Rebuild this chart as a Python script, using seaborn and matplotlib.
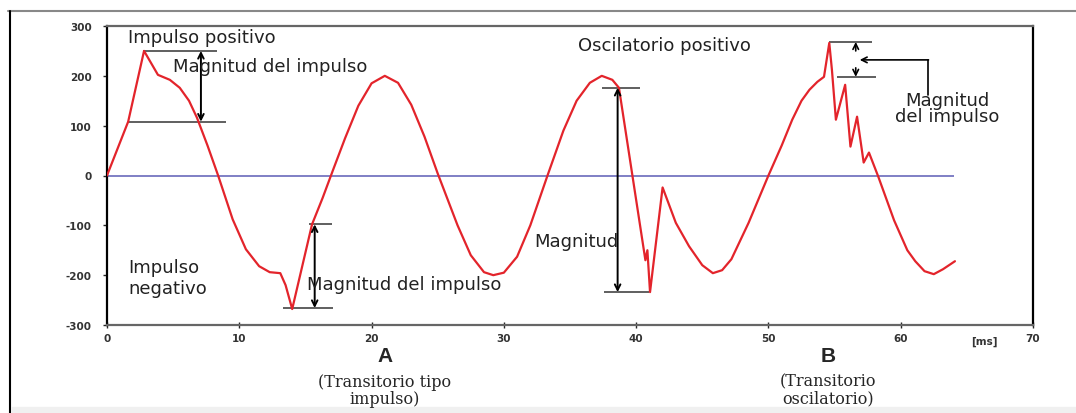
import matplotlib
matplotlib.use('Agg')
import matplotlib.pyplot as plt
import seaborn as sns
import pandas as pd
from matplotlib.lines import Line2D

# forma de onda (tiempo en ms, tension)
tiempo_ms = [0, 1.6, 2.8, 3.85, 4.75, 5.5, 6.2, 6.8, 7.6, 8.4, 9.5, 10.5, 11.5, 12.3, 13.1, 13.5,
             14.0, 14.6, 15.5, 16.3, 17.1,
             18, 19, 20, 21, 22, 23, 24, 25, 26.5, 27.5, 28.5, 29.2, 30, 31, 32, 33.3,
             34.5, 35.5, 36.5, 37.4, 38.2, 38.7,
             40.7, 40.85, 41.05, 42.0, 43, 44, 45, 45.8, 46.5, 47.2, 48.5, 50,
             51, 51.8, 52.5, 53.1, 53.7, 54.2, 54.6, 54.8, 55.1, 55.8, 56.2, 56.7, 57.2, 57.6,
             58.3, 59.5, 60.5, 61.1, 61.8, 62.5, 63.2, 64.1]
tension = [0, 108, 250, 202, 192, 176, 150, 116, 60, 0, -88, -148, -182, -194, -196, -220,
           -268, -200, -98, -45, 12,
           75, 140, 185, 200, 186, 142, 78, 4, -100, -160, -194, -200, -195, -163, -100, 0,
           90, 150, 186, 200, 192, 176,
           -170, -150, -234, -24, -95, -142, -180, -196, -190, -168, -95, 0,
           60, 112, 150, 172, 188, 198, 266, 212, 112, 182, 58, 118, 26, 46,
           -2, -90, -150, -172, -192, -198, -188, -172]

xticks = [0, 10, 20, 30, 40, 50, 60, 70]
yticks = [-300, -200, -100, 0, 100, 200, 300]

df = pd.DataFrame({'t': tiempo_ms, 'v': tension})

sns.set_style('white')
plt.rcParams['font.family'] = ['DejaVu Sans']

fig = plt.figure(figsize=(10.76, 4.14), dpi=100)
ax = fig.add_axes([107/1076, 1-326/414, (1033-107)/1076, (326-27)/414])

# marco exterior
fig.add_artist(Line2D([8/1076, 1], [1-12/414, 1-12/414], color='#888888', lw=1.5))
fig.add_artist(Line2D([10/1076, 10/1076], [0, 1-12/414], color='black', lw=1.5))
fig.patches.append(plt.Rectangle((12/1076, 0), 1, 6/414, transform=fig.transFigure,
                                 color='#f0f0f0', zorder=-5))

ax.hlines(0, 0, 64, color='#7575c0', lw=1.3, zorder=1)
sns.lineplot(data=df, x='t', y='v', estimator=None, sort=False, color='#e3242b', lw=1.6, ax=ax, zorder=3)

ax.set_xlim(0, 70)
ax.set_ylim(-300, 300)
ax.set_xticks(xticks)
ax.set_yticks(yticks)
ax.set_xticklabels([str(v) for v in xticks], fontsize=7.5, fontweight='bold', color='#333333')
ax.set_yticklabels([str(v) for v in yticks], fontsize=7.5, fontweight='bold', color='#333333')
ax.tick_params(axis='x', direction='inout', length=5, width=1, pad=3, bottom=True)
ax.tick_params(axis='y', direction='out', length=3, width=1, pad=8, left=True)
ax.set_xlabel('')
ax.set_ylabel('')
for s in ['left', 'right']:
    ax.spines[s].set_color('black')
    ax.spines[s].set_linewidth(1.6)
for s in ['top', 'bottom']:
    ax.spines[s].set_color('#666666')
    ax.spines[s].set_linewidth(1.6)

txt = dict(fontsize=13, color='#222222')
line = dict(color='#444444', lw=1.2)
arr2 = dict(arrowstyle='<->', color='black', lw=1.4, shrinkA=0, shrinkB=0)
arr1 = dict(arrowstyle='->', color='black', lw=1.2, shrinkA=0, shrinkB=0)

# impulso positivo
ax.text(1.6, 278, 'Impulso positivo', va='center', ha='left', **txt)
ax.hlines(250, 2.7, 8.3, **line)
ax.hlines(108, 1.6, 9.0, **line)
ax.annotate('', xy=(7.1, 250), xytext=(7.1, 108), arrowprops=arr2)
ax.text(5.0, 220, 'Magnitud del impulso', va='center', ha='left', **txt)

# impulso negativo
ax.text(1.6, -204, 'Impulso\nnegativo', va='center', ha='left', linespacing=1.2, **txt)
ax.hlines(-98, 15.3, 17.0, **line)
ax.hlines(-266, 13.3, 17.1, **line)
ax.annotate('', xy=(15.7, -98), xytext=(15.7, -266), arrowprops=arr2)
ax.text(15.1, -218, 'Magnitud del impulso', va='center', ha='left', **txt)

# magnitud transitorio
ax.hlines(176, 37.4, 40.3, **line)
ax.hlines(-234, 37.6, 41.0, **line)
ax.annotate('', xy=(38.6, 176), xytext=(38.6, -234), arrowprops=arr2)
ax.text(38.7, -132, 'Magnitud', va='center', ha='right', **txt)

# oscilatorio positivo
ax.text(35.6, 262, 'Oscilatorio positivo', va='center', ha='left', **txt)
ax.hlines(268, 54.6, 57.8, **line)
ax.hlines(198, 55.2, 58.1, **line)
ax.annotate('', xy=(56.6, 268), xytext=(56.6, 250), arrowprops=arr1)
ax.annotate('', xy=(56.6, 198), xytext=(56.6, 216), arrowprops=arr1)
ax.plot([62.1, 62.1], [162, 232], color='black', lw=1.2)
ax.annotate('', xy=(56.9, 232), xytext=(62.1, 232), arrowprops=arr1)
ax.text(63.5, 136, 'Magnitud\ndel impulso', va='center', ha='center', linespacing=0.85, **txt)

# etiquetas bajo el eje
ax.text(66.3, -322, '[ms]', va='top', ha='center', fontsize=7.5, fontweight='bold', color='#333333',
        clip_on=False)
ax.text(21.0, -362, 'A', va='center', ha='center', fontsize=15, fontweight='bold',
        family='Liberation Sans', clip_on=False)
ax.text(21.0, -430, '(Transitorio tipo\nimpulso)', va='center', ha='center', fontsize=11.5,
        family='DejaVu Serif', linespacing=1.0, clip_on=False)
ax.text(54.5, -362, 'B', va='center', ha='center', fontsize=15, fontweight='bold',
        family='Liberation Sans', clip_on=False)
ax.text(54.5, -430, '(Transitorio\noscilatorio)', va='center', ha='center', fontsize=11.5,
        family='DejaVu Serif', linespacing=1.0, clip_on=False)

fig.savefig('out.png', dpi=100)
